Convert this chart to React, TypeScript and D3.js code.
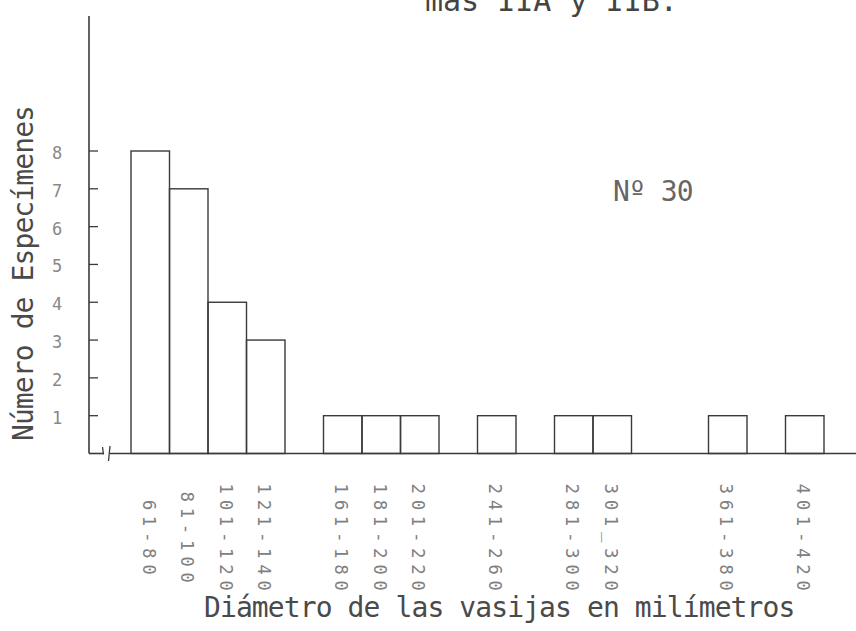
import React from "react";
import * as d3 from "d3";

const categories = [
  "61-80", "81-100", "101-120", "121-140", "141-160", "161-180", "181-200",
  "201-220", "221-240", "241-260", "261-280", "281-300", "301_320", "321-340",
  "341-360", "361-380", "381-400", "401-420",
];
const counts = [8, 7, 4, 3, 0, 1, 1, 1, 0, 1, 0, 1, 1, 0, 0, 1, 0, 1];
const yTicks = [1, 2, 3, 4, 5, 6, 7, 8];
const titleText = "mas IIA y IIB.";
const noteText = "Nº 30";
const xTitle = "Diámetro de las vasijas en milímetros";
const yTitle = "Número de Especímenes";

const W = 856;
const H = 631;
const FONT = "'DejaVu Sans Mono', 'Liberation Mono', monospace";

export default function App() {
  const x = d3.scaleBand<string>().domain(categories).range([131, 824]).padding(0);
  const y = d3.scaleLinear().domain([0, 8]).range([453.5, 151]);
  const axisX = 89;
  const baseY = y(0);
  const ink = "#3a3a3a";

  return (
    <svg
      width={W}
      height={H}
      viewBox={`0 0 ${W} ${H}`}
      style={{ position: "absolute", left: 0, top: 0, background: "#fff" }}
    >
      <rect x={0} y={0} width={W} height={H} fill="#fff" />
      {/* title (cut off at top, as in the scan) */}
      <text x={425} y={11} fontFamily={FONT} fontSize={30} fill="#444">
        {titleText}
      </text>

      {/* bars */}
      {categories.map((c, i) =>
        counts[i] > 0 ? (
          <rect
            key={c}
            x={x(c)!}
            y={y(counts[i])}
            width={x.bandwidth()}
            height={baseY - y(counts[i])}
            fill="none"
            stroke={ink}
            strokeWidth={1.4}
          />
        ) : null
      )}

      {/* y axis */}
      <line x1={axisX} y1={16} x2={axisX} y2={baseY} stroke={ink} strokeWidth={1.6} />
      {yTicks.map((t) => (
        <g key={t}>
          <line x1={axisX} y1={y(t)} x2={axisX + 9} y2={y(t)} stroke={ink} strokeWidth={1.3} />
          <text
            x={57}
            y={y(t) + 3}
            fontFamily={FONT}
            fontSize={17}
            fill="#888"
            textAnchor="middle"
            dominantBaseline="middle"
          >
            {t}
          </text>
        </g>
      ))}

      {/* x axis with break */}
      <line x1={axisX} y1={baseY} x2={103} y2={baseY} stroke={ink} strokeWidth={1.6} />
      <line x1={110} y1={baseY} x2={W} y2={baseY} stroke={ink} strokeWidth={1.6} />
      <line x1={102.5} y1={447} x2={103.5} y2={baseY + 1} stroke={ink} strokeWidth={1.3} />
      <line x1={110} y1={446} x2={108.5} y2={461} stroke={ink} strokeWidth={1.3} />

      {/* x tick labels, rotated */}
      {categories.map((c, i) =>
        counts[i] > 0 ? (
          <text
            key={"l" + c}
            transform={`translate(${x(c)! + x.bandwidth() / 2 - 1},540) rotate(90)`}
            fontFamily={FONT}
            fontSize={17.5}
            letterSpacing={5.6}
            fill="#808080"
            textAnchor="middle"
            dy="0.36em"
          >
            {c}
          </text>
        ) : null
      )}

      {/* annotation */}
      <text x={613} y={201} fontFamily={FONT} fontSize={28} letterSpacing={-0.9} fill="#666">
        {noteText}
      </text>

      {/* axis titles */}
      <text x={204} y={617} fontFamily={FONT} fontSize={28} letterSpacing={-0.9} fill="#4a4a4a">
        {xTitle}
      </text>
      <text
        transform={`translate(33,273.5) rotate(-90)`}
        fontFamily={FONT}
        fontSize={28}
        letterSpacing={-0.9}
        fill="#4a4a4a"
        textAnchor="middle"
      >
        {yTitle}
      </text>
    </svg>
  );
}
